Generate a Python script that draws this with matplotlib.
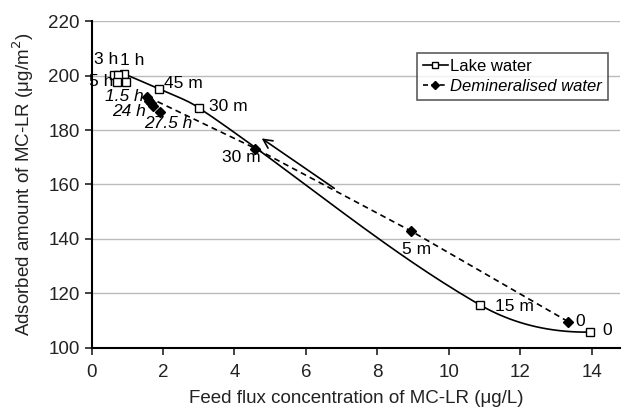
import numpy as np
import matplotlib
matplotlib.use('Agg')
import matplotlib.pyplot as plt

plt.rcParams['font.family'] = ['Liberation Sans', 'DejaVu Sans']

# Lake water (feed conc, adsorbed amount)
lake_x = [13.95, 10.89, 3.0, 1.89, 0.92]
lake_y = [105.7, 115.6, 188.2, 195.1, 200.6]
# extra lake water points at the end of the run (3 h, 5 h)
lake_end_x = [0.62, 0.75, 0.72, 0.96]
lake_end_y = [200.3, 200.3, 197.7, 197.7]

# Demineralised water
demin_x = [13.34, 8.94, 4.59, 1.55]
demin_y = [109.6, 142.9, 173.2, 192.3]
demin_end_x = [1.6, 1.66, 1.73, 1.93]
demin_end_y = [190.8, 189.8, 189.0, 186.5]

# labels: (text, x, y, ha)
lake_labels = [('0', 14.3, 106.3, 'left'), ('15 m', 11.3, 115.0, 'left'),
               ('30 m', 3.3, 188.6, 'left'), ('45 m', 2.02, 197.0, 'left'),
               ('1 h', 1.15, 205.5, 'center'), ('3 h', 0.4, 205.8, 'center'),
               ('5 h', 0.6, 198.0, 'right')]
demin_labels = [('0', 13.55, 109.6, 'left'), ('5 m', 9.1, 136.0, 'center'),
                ('30 m', 4.2, 170.0, 'center')]
demin_labels_it = [('1.5 h', 1.47, 192.5, 'right'), ('24 h', 1.52, 186.8, 'right'),
                   ('27.5 h', 2.15, 182.5, 'center')]

# pixel scale used for chord lengths of the smoothed line
SX, SY = 35.75, 2.72


def smooth(x, y, n=40):
    # non-uniform catmull-rom (excel style smoothed line) as bezier pieces
    p = np.column_stack([x, y]).astype(float)
    ch = np.hypot(np.diff(p[:, 0]) * SX, np.diff(p[:, 1]) * SY)
    npts = len(p)
    t_out = np.zeros_like(p)
    t_in = np.zeros_like(p)
    for i in range(1, npts - 1):
        d = p[i + 1] - p[i - 1]
        s = ch[i - 1] + ch[i]
        t_out[i] = d * ch[i] / s
        t_in[i] = d * ch[i - 1] / s
    # natural-ish ends: curve flattens out at the first point
    t_out[0] = 2 * (p[1] - p[0]) - t_in[1]
    t_out[0][1] = min(t_out[0][1], 0) if t_out[0][0] < 0 else t_out[0][1]
    t_in[-1] = p[-1] - p[-2]
    out = []
    t = np.linspace(0, 1, n)[:, None]
    for i in range(npts - 1):
        b0 = p[i]
        b1 = p[i] + t_out[i] / 3
        b2 = p[i + 1] - t_in[i + 1] / 3
        b3 = p[i + 1]
        c = ((1 - t) ** 3 * b0 + 3 * (1 - t) ** 2 * t * b1
             + 3 * (1 - t) * t ** 2 * b2 + t ** 3 * b3)
        out.append(c)
    c = np.vstack(out)
    return c[:, 0], c[:, 1]


fig = plt.figure(figsize=(6.27, 4.08), dpi=100)
ax = fig.add_axes([0.146, 0.148, 0.843, 0.800])

sx, sy = smooth(lake_x, lake_y)
ax.plot(sx, sy, color='black', lw=1.2, zorder=2)
ax.plot(lake_x + lake_end_x, lake_y + lake_end_y, ls='none', marker='s', ms=6,
        mfc='white', mec='black', mew=1.0, zorder=3)

ax.plot(demin_x, demin_y, color='black', lw=1.2, ls=(0, (3.5, 2.5)), zorder=2)
ax.plot(demin_x + demin_end_x, demin_y + demin_end_y, ls='none', marker='D', ms=5.5,
        mfc='black', mec='black', zorder=3)

# legend proxies
ax.plot([], [], color='black', lw=1.2, marker='s', ms=5, mfc='white', mec='black',
        label='Lake water')
ax.plot([], [], color='black', lw=1.2, ls=(0, (3, 2)), marker='D', ms=4, mfc='black',
        label='Demineralised water')
h, l = ax.get_legend_handles_labels()
leg = ax.legend(h, l, loc='upper right', bbox_to_anchor=(0.977, 0.902), fontsize=12,
                frameon=True, fancybox=False, edgecolor='#333333', handlelength=1.5,
                handletextpad=0.15, borderpad=0.35, labelspacing=0.3, borderaxespad=0)
leg.get_frame().set_linewidth(1.2)
leg.get_texts()[1].set_style('italic')

for t, x, y, ha in lake_labels + demin_labels:
    ax.text(x, y, t, ha=ha, va='center', fontsize=12.5, zorder=4)
for t, x, y, ha in demin_labels_it:
    ax.text(x, y, t, ha=ha, va='center', fontsize=12.5, style='italic', zorder=4)

ax.annotate('', xy=(4.7, 177.5), xytext=(6.86, 158.0),
            arrowprops=dict(arrowstyle='->', color='black', lw=1.2, mutation_scale=16))

ax.set_xlim(0, 14.8)
ax.set_ylim(100, 220)
ax.set_xticks(range(0, 15, 2))
ax.set_yticks(range(100, 221, 20))
ax.yaxis.grid(True, color='#bbbbbb', lw=1.0)
ax.set_axisbelow(True)
for s in ['top', 'right']:
    ax.spines[s].set_visible(False)
ax.spines['left'].set_linewidth(1.5)
ax.spines['bottom'].set_linewidth(1.5)
ax.tick_params(direction='out', length=5, width=1.2, labelsize=13.5, colors='#222222')
ax.tick_params(axis='x', pad=7)
ax.set_xlabel('Feed flux concentration of MC-LR (\u03bcg/L)', fontsize=13.5,
              color='#222222', labelpad=6)
ax.set_ylabel('Adsorbed amount of MC-LR (\u03bcg/m$^2$)', fontsize=13.5,
              color='#222222', labelpad=9)

fig.savefig('out.png', dpi=100)
